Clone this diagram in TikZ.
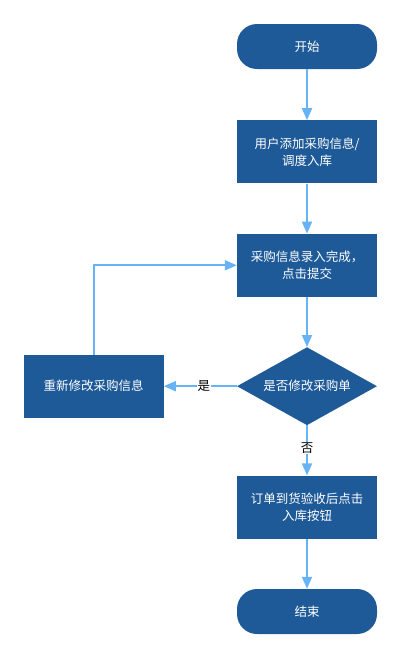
\documentclass[tikz,border=0pt]{standalone}
\usepackage{fontspec}
\setmainfont{Noto Sans CJK SC}
\usetikzlibrary{arrows.meta, positioning, shapes.geometric}

\definecolor{boxblue}{RGB}{30,90,152}
\definecolor{lineblue}{RGB}{102,179,245}

\begin{document}
\begin{tikzpicture}[
    x=1pt, y=1pt,
    node distance=50pt and 73pt,
    box/.style={
        rectangle, fill=boxblue,
        minimum width=140pt, minimum height=63pt,
        align=center, text=white, font=\fontsize{12.5}{17}\selectfont, inner sep=4pt
    },
    term/.style={
        box, rounded corners=20pt, minimum height=45pt
    },
    decision/.style={
        diamond, fill=boxblue, shape aspect=1.8,
        minimum width=140pt, minimum height=78pt, inner sep=0pt,
        text=white, font=\fontsize{12.5}{17}\selectfont
    },
    arrow/.style={-{Triangle[length=12pt,width=10pt]}, line width=1.8pt, draw=lineblue},
    lbl/.style={fill=white, font=\fontsize{12.5}{14}\selectfont, inner sep=1pt}
]
\useasboundingbox (0,0) rectangle (402,-659);

% Main spine
\node[term] (start) at (307,-46.5) {开始};
\node[box, below=51pt of start] (add) {用户添加采购信息/\\调度入库};
\node[box, below=of add]      (submit) {采购信息录入完成，\\点击提交};
\node[decision, below=of submit] (check) {是否修改采购单};
\node[box, below=of check]    (stock) {订单到货验收后点击\\入库按钮};
\node[term, below=of stock] (stop) {结束};

% Side box
\node[box, left=of check] (redo) {重新修改采购信息};

% Spine arrows
\draw[arrow] (start)  -- (add);
\draw[arrow] (add)    -- (submit);
\draw[arrow] (submit) -- (check);
\draw[arrow] (check)  -- node[lbl, pos=0.45]{否} (stock);
\draw[arrow] (stock)  -- (stop);

% Loop back
\draw[arrow] (check) -- node[lbl, pos=0.45]{是} (redo);
\draw[arrow] (redo.north) |- (submit.west);

\end{tikzpicture}
\end{document}
